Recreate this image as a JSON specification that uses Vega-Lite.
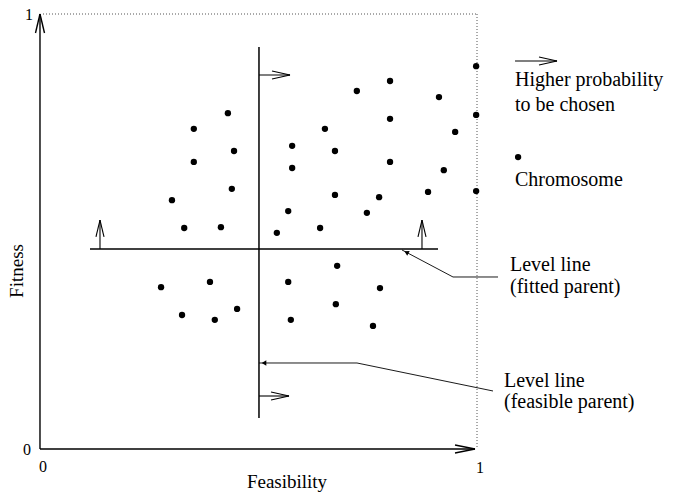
{
  "$schema": "https://vega.github.io/schema/vega-lite/v6.json",
  "width": 680,
  "height": 492,
  "autosize": {"type": "fit", "contains": "padding"},
  "padding": 0,
  "background": "white",
  "config": {"view": {"stroke": null}, "font": "Liberation Serif"},
  "datasets": {
    "axes": [
      {"x": 0, "y": 0, "x2": 0, "y2": 1.0},
      {"x": 0, "y": 1.0, "x2": -0.0103, "y2": 0.9563},
      {"x": 0, "y": 1.0, "x2": 0.0103, "y2": 0.9563},
      {"x": 0, "y": 0, "x2": 0.9954, "y2": 0},
      {"x": 0.9954, "y": 0, "x2": 0.9497, "y2": 0.0092},
      {"x": 0.9954, "y": 0, "x2": 0.9497, "y2": -0.0092}
    ],
    "dotted": [
      {"x": 0.0069, "y": 1.0, "x2": 1.0, "y2": 1.0},
      {"x": 1.0, "y": 1.0, "x2": 1.0, "y2": 0}
    ],
    "level": [
      {"x": 0.5011, "y": 0.9241, "x2": 0.5011, "y2": 0.0713},
      {"x": 0.1144, "y": 0.4598, "x2": 0.9108, "y2": 0.4598}
    ],
    "arrows": [
      {"x": 0.5011, "y": 0.8598, "x2": 0.5721, "y2": 0.8598},
      {"x": 0.5721, "y": 0.8598, "x2": 0.5309, "y2": 0.8690},
      {"x": 0.5721, "y": 0.8598, "x2": 0.5309, "y2": 0.8506},
      {"x": 0.5011, "y": 0.1218, "x2": 0.5698, "y2": 0.1218},
      {"x": 0.5698, "y": 0.1218, "x2": 0.5286, "y2": 0.1310},
      {"x": 0.5698, "y": 0.1218, "x2": 0.5286, "y2": 0.1126},
      {"x": 0.1373, "y": 0.4598, "x2": 0.1373, "y2": 0.5264},
      {"x": 0.1373, "y": 0.5264, "x2": 0.1281, "y2": 0.4874},
      {"x": 0.1373, "y": 0.5264, "x2": 0.1465, "y2": 0.4874},
      {"x": 0.8741, "y": 0.4598, "x2": 0.8741, "y2": 0.5264},
      {"x": 0.8741, "y": 0.5264, "x2": 0.8650, "y2": 0.4874},
      {"x": 0.8741, "y": 0.5264, "x2": 0.8833, "y2": 0.4874},
      {"x": 1.0870, "y": 0.8920, "x2": 1.1831, "y2": 0.8920},
      {"x": 1.1831, "y": 0.8920, "x2": 1.1419, "y2": 0.9011},
      {"x": 1.1831, "y": 0.8920, "x2": 1.1419, "y2": 0.8828}
    ],
    "thin": [
      {"x": 0.8284, "y": 0.4575, "x2": 0.9451, "y2": 0.3954},
      {"x": 0.9451, "y": 0.3954, "x2": 1.0481, "y2": 0.3954},
      {"x": 0.5011, "y": 0.1977, "x2": 0.7254, "y2": 0.1977},
      {"x": 0.7254, "y": 0.1977, "x2": 1.0366, "y2": 0.1333}
    ],
    "heads": [
      {"x": 0.5126, "y": 0.1977, "angle": 0},
      {"x": 0.8385, "y": 0.4522, "angle": 28}
    ],
    "points": [
      {"x": 0.430, "y": 0.772}, {"x": 0.352, "y": 0.736}, {"x": 0.444, "y": 0.685},
      {"x": 0.352, "y": 0.660}, {"x": 0.439, "y": 0.598}, {"x": 0.302, "y": 0.572},
      {"x": 0.330, "y": 0.508}, {"x": 0.414, "y": 0.510}, {"x": 0.998, "y": 0.880},
      {"x": 0.801, "y": 0.846}, {"x": 0.725, "y": 0.823}, {"x": 0.913, "y": 0.809},
      {"x": 0.998, "y": 0.768}, {"x": 0.801, "y": 0.759}, {"x": 0.652, "y": 0.736},
      {"x": 0.950, "y": 0.729}, {"x": 0.577, "y": 0.697}, {"x": 0.675, "y": 0.685},
      {"x": 0.577, "y": 0.646}, {"x": 0.801, "y": 0.660}, {"x": 0.924, "y": 0.641},
      {"x": 0.998, "y": 0.593}, {"x": 0.675, "y": 0.584}, {"x": 0.776, "y": 0.579},
      {"x": 0.888, "y": 0.591}, {"x": 0.568, "y": 0.547}, {"x": 0.748, "y": 0.543},
      {"x": 0.542, "y": 0.497}, {"x": 0.641, "y": 0.508}, {"x": 0.277, "y": 0.372},
      {"x": 0.389, "y": 0.384}, {"x": 0.325, "y": 0.308}, {"x": 0.400, "y": 0.297},
      {"x": 0.451, "y": 0.322}, {"x": 0.680, "y": 0.421}, {"x": 0.568, "y": 0.384},
      {"x": 0.778, "y": 0.370}, {"x": 0.677, "y": 0.333}, {"x": 0.574, "y": 0.297},
      {"x": 0.762, "y": 0.283}, {"x": 1.094, "y": 0.671}
    ],
    "ticks": [
      {"x": -0.0252, "y": 0.9977, "t": "1"},
      {"x": -0.0297, "y": -0.0023, "t": "0"},
      {"x": 0.0069, "y": -0.0414, "t": "0"},
      {"x": 1.0069, "y": -0.0437, "t": "1"}
    ],
    "legend": [
      {"x": 1.087, "y": 0.8483, "t": "Higher probability"},
      {"x": 1.087, "y": 0.7908, "t": "to be chosen"},
      {"x": 1.087, "y": 0.6184, "t": "Chromosome"},
      {"x": 1.0755, "y": 0.4230, "t": "Level line"},
      {"x": 1.0755, "y": 0.3724, "t": "(fitted parent)"},
      {"x": 1.0618, "y": 0.1563, "t": "Level line"},
      {"x": 1.0618, "y": 0.1069, "t": "(feasible parent)"}
    ]
  },
  "encoding": {
    "x": {"field": "x", "type": "quantitative", "scale": {"domain": [-0.0915, 1.4645], "nice": false, "zero": false}, "axis": null},
    "y": {"field": "y", "type": "quantitative", "scale": {"domain": [-0.0989, 1.0322], "nice": false, "zero": false}, "axis": null}
  },
  "layer": [
    {
      "data": {"name": "dotted"},
      "mark": {"type": "rule", "color": "#555555", "strokeWidth": 1, "strokeDash": [1, 2]},
      "encoding": {"x2": {"field": "x2"}, "y2": {"field": "y2"}}
    },
    {
      "data": {"name": "axes"},
      "mark": {"type": "rule", "color": "black", "strokeWidth": 1.4},
      "encoding": {"x2": {"field": "x2"}, "y2": {"field": "y2"}}
    },
    {
      "data": {"name": "level"},
      "mark": {"type": "rule", "color": "black", "strokeWidth": 1.5},
      "encoding": {"x2": {"field": "x2"}, "y2": {"field": "y2"}}
    },
    {
      "data": {"name": "arrows"},
      "mark": {"type": "rule", "color": "black", "strokeWidth": 1.1},
      "encoding": {"x2": {"field": "x2"}, "y2": {"field": "y2"}}
    },
    {
      "data": {"name": "thin"},
      "mark": {"type": "rule", "color": "black", "strokeWidth": 0.9},
      "encoding": {"x2": {"field": "x2"}, "y2": {"field": "y2"}}
    },
    {
      "data": {"name": "heads"},
      "mark": {"type": "point", "shape": "triangle-left", "filled": true, "color": "black", "size": 28, "opacity": 1},
      "encoding": {"angle": {"field": "angle", "type": "quantitative", "scale": null}}
    },
    {
      "data": {"name": "points"},
      "mark": {"type": "circle", "color": "black", "size": 40, "opacity": 1}
    },
    {
      "data": {"name": "ticks"},
      "mark": {"type": "text", "fontSize": 16, "align": "center", "baseline": "middle", "color": "black"},
      "encoding": {"text": {"field": "t"}}
    },
    {
      "data": {"values": [{"x": -0.0526, "y": 0.4092, "t": "Fitness"}]},
      "mark": {"type": "text", "fontSize": 19, "angle": 270, "align": "center", "baseline": "middle", "color": "black"},
      "encoding": {"text": {"field": "t"}}
    },
    {
      "data": {"values": [{"x": 0.5652, "y": -0.0759, "t": "Feasibility"}]},
      "mark": {"type": "text", "fontSize": 19, "align": "center", "baseline": "middle", "color": "black"},
      "encoding": {"text": {"field": "t"}}
    },
    {
      "data": {"name": "legend"},
      "mark": {"type": "text", "fontSize": 20, "align": "left", "baseline": "middle", "color": "black"},
      "encoding": {"text": {"field": "t"}}
    }
  ]
}
